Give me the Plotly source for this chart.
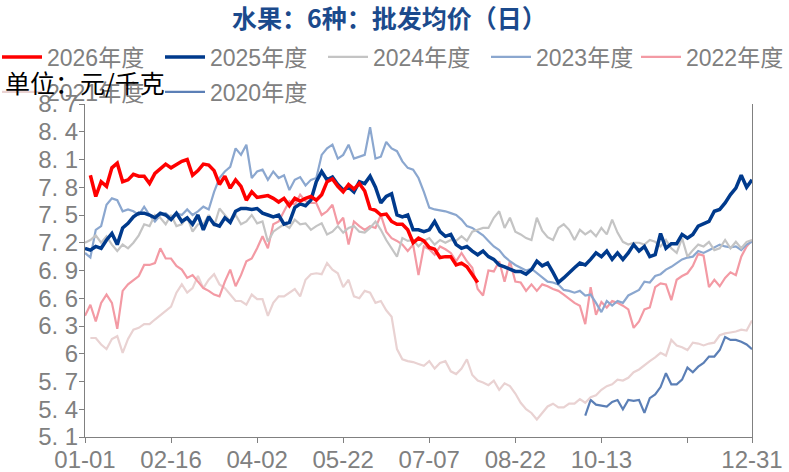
import plotly.graph_objects as go

# ---------------- data ----------------
# x axis: positions along the year (index of sampling points, every 2 units on a 0-248 scale)
x_step = 2
tick_pos = [0, 32, 64, 96, 128, 160, 192, 224, 248]
tick_labels = ["01-01", "02-16", "04-02", "05-22", "07-07", "08-22", "10-13", "", "12-31"]

y_ticks = [5.1, 5.4, 5.7, 6.0, 6.3, 6.6, 6.9, 7.2, 7.5, 7.8, 8.1, 8.4, 8.7]
y_tick_labels = ["5. 1", "5. 4", "5. 7", "6", "6. 3", "6. 6", "6. 9", "7. 2", "7. 5",
                 "7. 8", "8. 1", "8. 4", "8. 7"]

s2026 = [None, 7.93, 7.70, 7.86, 7.81, 8.01, 8.06, 7.86, 7.88, 7.94, 7.92, 7.92, 7.84, 7.95,
         8.00, 8.05, 8.01, 8.05, 8.08, 8.10, 7.93, 7.98, 8.05, 8.04, 7.98, 7.83, 7.92, 7.79,
         7.88, 7.81, 7.66, 7.75, 7.69, 7.70, 7.71, 7.68, 7.64, 7.68, 7.60, 7.68, 7.65, 7.68,
         7.70, 7.66, 7.72, 7.86, 7.89, 7.81, 7.75, 7.83, 7.78, 7.84, 7.76, 7.57, 7.55, 7.50,
         7.51, 7.43, 7.40, 7.40, 7.34, 7.20, 7.25, 7.22, 7.15, 7.13, 7.04, 7.05, 7.05, 6.96,
         6.98, 6.94, 6.86, 6.77]

s2025 = [7.14, 7.12, 7.16, 7.14, 7.23, 7.30, 7.18, 7.36, 7.41, 7.48, 7.52, 7.52, 7.50, 7.47,
         7.52, 7.50, 7.45, 7.52, 7.43, 7.47, 7.40, 7.50, 7.34, 7.48, 7.40, 7.38, 7.47, 7.42,
         7.54, 7.57, 7.57, 7.56, 7.57, 7.52, 7.50, 7.48, 7.50, 7.40, 7.42, 7.58, 7.62, 7.60,
         7.66,
         7.86, 7.97, 7.88, 7.91, 7.83, 7.77, 7.80, 7.75, 7.86, 7.84, 7.92, 7.80, 7.63, 7.70,
         7.73, 7.50, 7.48, 7.50, 7.34, 7.34, 7.32, 7.34, 7.43, 7.32, 7.27, 7.29, 7.18, 7.14,
         7.16, 7.11, 7.07, 7.11, 7.05, 7.02, 6.96, 6.94, 6.91, 6.89, 6.89, 6.86,
         6.91, 7.00, 6.95, 6.98, 6.88, 6.77, 6.82, 6.88, 6.93, 6.98, 6.96, 7.02, 7.09, 7.05,
         7.11, 7.02, 7.09, 7.02, 7.09, 7.18, 7.11, 7.16, 7.05, 7.07, 7.30, 7.14, 7.19, 7.19,
         7.29, 7.25, 7.29, 7.38, 7.40, 7.43, 7.54, 7.56, 7.63, 7.72, 7.79, 7.93, 7.80, 7.88]

s2024 = [7.20, 7.23, 7.28, 7.20, 7.27, 7.18, 7.11, 7.18, 7.14, 7.20, 7.28, 7.40, 7.38, 7.50,
         7.47, 7.40, 7.50, 7.38, 7.40, 7.48, 7.32, 7.40, 7.40, 7.50, 7.38, 7.57, 7.50, 7.43,
         7.50, 7.40, 7.43, 7.50, 7.41, 7.43, 7.21, 7.32, 7.36, 7.40, 7.36, 7.45, 7.40, 7.41,
         7.34,
         7.38, 7.41, 7.29, 7.32, 7.38, 7.31, 7.36, 7.38, 7.32, 7.31, 7.36, 7.43, 7.34, 7.23,
         7.14, 7.05, 7.25, 7.22, 7.23, 7.16, 7.22, 7.25, 7.18, 7.23, 7.20, 7.23, 7.22, 7.27,
         7.22, 7.32, 7.34, 7.36, 7.36, 7.47, 7.54, 7.36, 7.47, 7.32, 7.29, 7.25,
         7.23, 7.47, 7.33, 7.26, 7.23, 7.36, 7.40, 7.34, 7.23, 7.34, 7.29, 7.33, 7.27, 7.36,
         7.29, 7.45, 7.31, 7.21, 7.18, 7.20, 7.20, 7.18, 7.23, 7.21, 7.16, 7.23, 7.14, 7.09,
         7.25, 7.05, 7.12, 7.18, 7.16, 7.21, 7.12, 7.14, 7.23, 7.14, 7.21, 7.14, 7.21, 7.23]

s2023 = [7.09, 7.04, 7.34, 7.38, 7.61, 7.68, 7.66, 7.54, 7.56, 7.54, 7.50, 7.59, 7.50, 7.43,
         7.50, 7.52, 7.47, 7.52, 7.50, 7.56, 7.50, 7.54, 7.59, 7.56, 7.75, 7.90, 7.97, 8.02,
         8.22, 8.15, 8.26, 7.90, 7.97, 7.99, 7.88, 7.97, 7.90, 7.93, 7.77, 7.88, 7.91, 7.82,
         7.88,
         7.90, 8.15, 8.22, 8.26, 8.11, 8.15, 8.26, 8.11, 8.13, 8.15, 8.45, 8.11, 8.13, 8.29,
         8.22, 8.19, 8.08, 8.01, 7.99, 7.90, 7.75, 7.58, 7.56, 7.55, 7.54, 7.52, 7.50, 7.45,
         7.38, 7.36, 7.32, 7.28, 7.22, 7.16, 7.12, 7.05, 7.00, 6.96, 6.93, 6.90,
         6.92, 6.87, 6.82, 6.78, 6.77, 6.75, 6.69, 6.68, 6.66, 6.68, 6.63, 6.64, 6.55, 6.45,
         6.57, 6.52, 6.57, 6.55, 6.63, 6.66, 6.69, 6.78, 6.77, 6.84, 6.86, 6.91, 6.94, 6.98,
         7.02, 7.04, 7.05, 7.11, 7.09, 7.12, 7.15, 7.18, 7.16, 7.15, 7.16, 7.12, 7.18, 7.21]

s2022 = [6.41, 6.53, 6.35, 6.55, 6.64, 6.55, 6.27, 6.68, 6.75, 6.80, 6.84, 6.96, 6.96, 6.98,
         7.14, 7.03, 7.03, 6.95, 6.91, 6.82, 6.85, 6.78, 6.71, 6.68, 6.64, 6.62, 6.78, 6.91,
         6.73, 6.85, 7.00, 7.03, 7.14, 7.27, 7.14, 7.40, 7.43, 7.54, 7.65, 7.61, 7.72, 7.65,
         7.63,
         7.63, 7.50, 7.54, 7.61, 7.40, 7.47, 7.18, 7.43, 7.38, 7.34, 7.38, 7.36, 7.50, 7.32,
         7.25, 7.22, 7.18, 7.11, 7.18, 6.85, 7.16, 7.13, 7.07, 7.16, 7.13, 7.09, 7.00, 7.09,
         7.00, 6.93, 6.70, 6.63, 6.90, 6.89, 7.00, 6.78, 7.00, 6.78, 6.77, 6.68,
         6.75, 6.68, 6.75, 6.73, 6.70, 6.68, 6.64, 6.59, 6.55, 6.52, 6.32, 6.72, 6.42, 6.56,
         6.50, 6.57, 6.55, 6.52, 6.48, 6.28, 6.35, 6.48, 6.50, 6.72, 6.76, 6.75, 6.58, 6.80,
         6.84, 6.87, 6.95, 7.08, 7.06, 6.72, 6.80, 6.73, 6.82, 6.88, 6.85, 7.05, 7.16, 7.23]

s2021 = [None, 6.17, 6.17, 6.10, 6.05, 6.16, 6.19, 6.01, 6.16, 6.26, 6.28, 6.32, 6.32, 6.37,
         6.42, 6.46, 6.51, 6.66, 6.75, 6.66, 6.71, 6.84, 6.71, 6.80, 6.86, 6.75, 6.71, 6.64,
         6.57, 6.57, 6.53, 6.64, 6.59, 6.59, 6.41, 6.55, 6.62, 6.62, 6.66, 6.70, 6.62, 6.80,
         6.86, 6.87, 6.86, 6.98, 6.91, 6.87, 6.72, 6.80, 6.62, 6.60, 6.68, 6.66, 6.55, 6.57,
         6.47, 6.40, 6.05, 5.94, 5.92, 5.91, 5.89, 5.87, 5.92, 5.84, 5.90, 5.92, 5.81, 5.78,
         5.84, 5.94, 5.77, 5.71, 5.69, 5.66, 5.71, 5.61, 5.68, 5.65, 5.57, 5.47, 5.40, 5.36,
         5.29, 5.36, 5.43, 5.46, 5.42, 5.42, 5.46, 5.46, 5.51, 5.47, 5.53, 5.55, 5.61, 5.65,
         5.67, 5.72, 5.71, 5.74, 5.80, 5.83, 5.88, 5.92, 5.96, 6.01, 5.98, 6.15, 6.09, 6.07,
         6.04, 6.12, 6.11, 6.09, 6.11, 6.12, 6.20, 6.22, 6.23, 6.24, 6.26, 6.25, 6.36]

s2020 = [None] * 93 + [5.33, 5.50, 5.45, 5.44, 5.43, 5.48, 5.50, 5.40, 5.50, 5.49, 5.50, 5.36,
                      5.52, 5.56, 5.64, 5.79, 5.67, 5.67, 5.72, 5.85, 5.80, 5.86, 5.90, 5.97,
                      5.97, 6.04, 6.18, 6.15, 6.15, 6.13, 6.10, 6.05]

# (name, values, colour, line width, legend box)
series = [
    ("2026年度", s2026, "#FF0000", 3.5, "legend"),
    ("2025年度", s2025, "#003A8C", 3.5, "legend"),
    ("2024年度", s2024, "#C4C4C4", 2.2, "legend"),
    ("2023年度", s2023, "#8BA7CF", 2.2, "legend"),
    ("2022年度", s2022, "#F39AA4", 2.2, "legend3"),
    ("2021年度", s2021, "#E9D2D2", 2.2, "legend2"),
    ("2020年度", s2020, "#5B7FB6", 2.2, "legend2"),
]

# ---------------- figure ----------------
W, H = 789, 472
L, R, T, B = 85, 37, 104, 35
pw, ph = W - L - R, H - T - B

fig = go.Figure()
for rank, (name, vals, color, width, leg) in reversed(list(enumerate(series))):
    xs = [i * x_step for i in range(len(vals))]
    fig.add_trace(go.Scatter(
        x=xs, y=vals, name=name, mode="lines",
        line=dict(color=color, width=width),
        legendrank=rank + 1, connectgaps=False, legend=leg,
    ))

gray = "#808080"
tick_font = dict(family="Liberation Sans, Noto Sans CJK SC", size=24, color=gray)
leg_font = dict(family="Liberation Sans, Noto Sans CJK SC", size=23, color=gray)


def px_to_paper_y(py):
    return 1 + (T - py) / ph


def px_to_paper_x(px):
    return (px - L) / pw


leg_common = dict(
    orientation="h", xanchor="left", yanchor="middle",
    entrywidth=108, entrywidthmode="pixels",
    font=leg_font, bgcolor="rgba(0,0,0,0)",
    traceorder="normal", itemwidth=40,
)

fig.update_layout(
    width=W, height=H,
    margin=dict(l=L, r=R, t=T, b=B, pad=0, autoexpand=False),
    paper_bgcolor="white", plot_bgcolor="white",
    showlegend=True,
    title=dict(
        text="<b>水果：6种：批发均价（日）</b>",
        x=389.5 / W, xanchor="center", xref="container",
        y=1 - 19 / H, yanchor="middle", yref="container",
        font=dict(family="Noto Sans CJK SC", size=25, color="#1B4A8C"),
    ),
    legend=dict(leg_common, x=px_to_paper_x(-3), y=px_to_paper_y(57)),
    legend3=dict(leg_common, x=px_to_paper_x(636), y=px_to_paper_y(57)),
    legend2=dict(leg_common, x=px_to_paper_x(-3), y=px_to_paper_y(92)),
    xaxis=dict(
        range=[tick_pos[0], tick_pos[-1]],
        tickmode="array", tickvals=tick_pos, ticktext=tick_labels,
        ticks="outside", ticklen=5, tickcolor=gray, tickwidth=1,
        showline=True, linecolor=gray, linewidth=1,
        showgrid=False, zeroline=False,
        tickfont=tick_font, ticklabelstandoff=-4,
    ),
    yaxis=dict(
        range=[y_ticks[0], y_ticks[-1]],
        tickmode="array", tickvals=y_ticks, ticktext=y_tick_labels,
        ticks="outside", ticklen=5, tickcolor=gray, tickwidth=1,
        showline=True, linecolor=gray, linewidth=1, mirror=True,
        showgrid=False, zeroline=False,
        tickfont=tick_font, ticklabelstandoff=-4,
    ),
)

fig.add_annotation(
    text="单位：元/千克", xref="paper", yref="paper",
    x=px_to_paper_x(3), xanchor="left",
    y=px_to_paper_y(82), yanchor="middle",
    showarrow=False,
    font=dict(family="Noto Sans CJK SC", size=25, color="black"),
)

fig.write_html("out.html", config={"displayModeBar": False},
               post_script="document.body.style.margin='0px';")
